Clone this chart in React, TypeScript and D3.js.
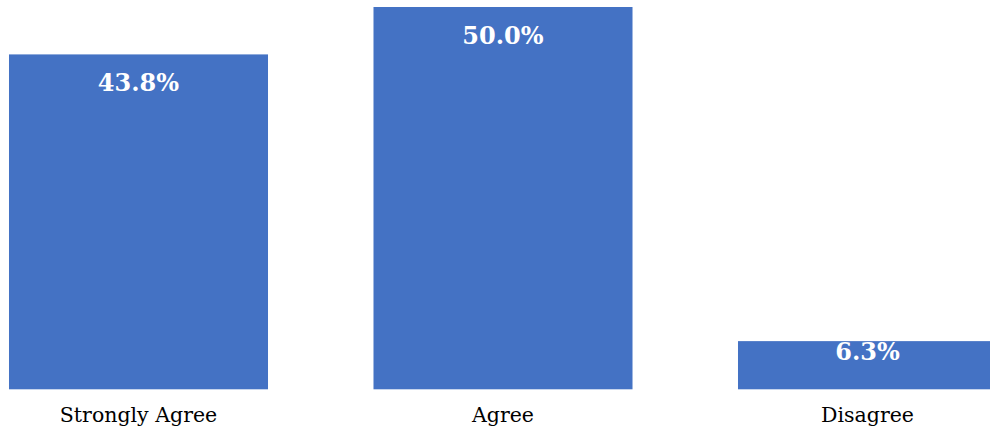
import React from "react";
import * as d3 from "d3";

const categories = ["Strongly Agree", "Agree", "Disagree"];
const values = [43.8, 50.0, 6.3];
const valueLabels = ["43.8%", "50.0%", "6.3%"];

const W = 990;
const H = 434;
const baseline = 389.3;
const top = 7;

export default function App() {
  const step = 364.5;
  const x0 = 138.5 - step / 2;
  const x = d3
    .scaleBand<string>()
    .domain(categories)
    .range([x0, x0 + step * categories.length])
    .paddingInner(0.2894)
    .paddingOuter(0.1447);
  const y = d3.scaleLinear().domain([0, 50]).range([baseline, top]);

  return (
    <svg
      width={W}
      height={H}
      style={{ position: "absolute", left: 0, top: 0, background: "#fff" }}
    >
      {categories.map((c, i) => {
        const bx = x(c)!;
        const by = y(values[i]);
        const bh = baseline - by;
        const ly = bh > 80 ? by + 37 : by + bh * 0.4;
        return (
          <g key={c}>
            <rect x={bx} y={by} width={x.bandwidth()} height={bh} fill="#4472C4" />
            <text
              x={bx + x.bandwidth() / 2}
              y={ly}
              textAnchor="middle"
              fill="#fff"
              fontFamily="DejaVu Serif"
              fontWeight="bold"
              fontSize={24}
            >
              {valueLabels[i]}
            </text>
            <text
              x={bx + x.bandwidth() / 2}
              y={422}
              textAnchor="middle"
              fill="#000"
              fontFamily="DejaVu Serif"
              fontSize={20.5}
            >
              {c}
            </text>
          </g>
        );
      })}
    </svg>
  );
}
